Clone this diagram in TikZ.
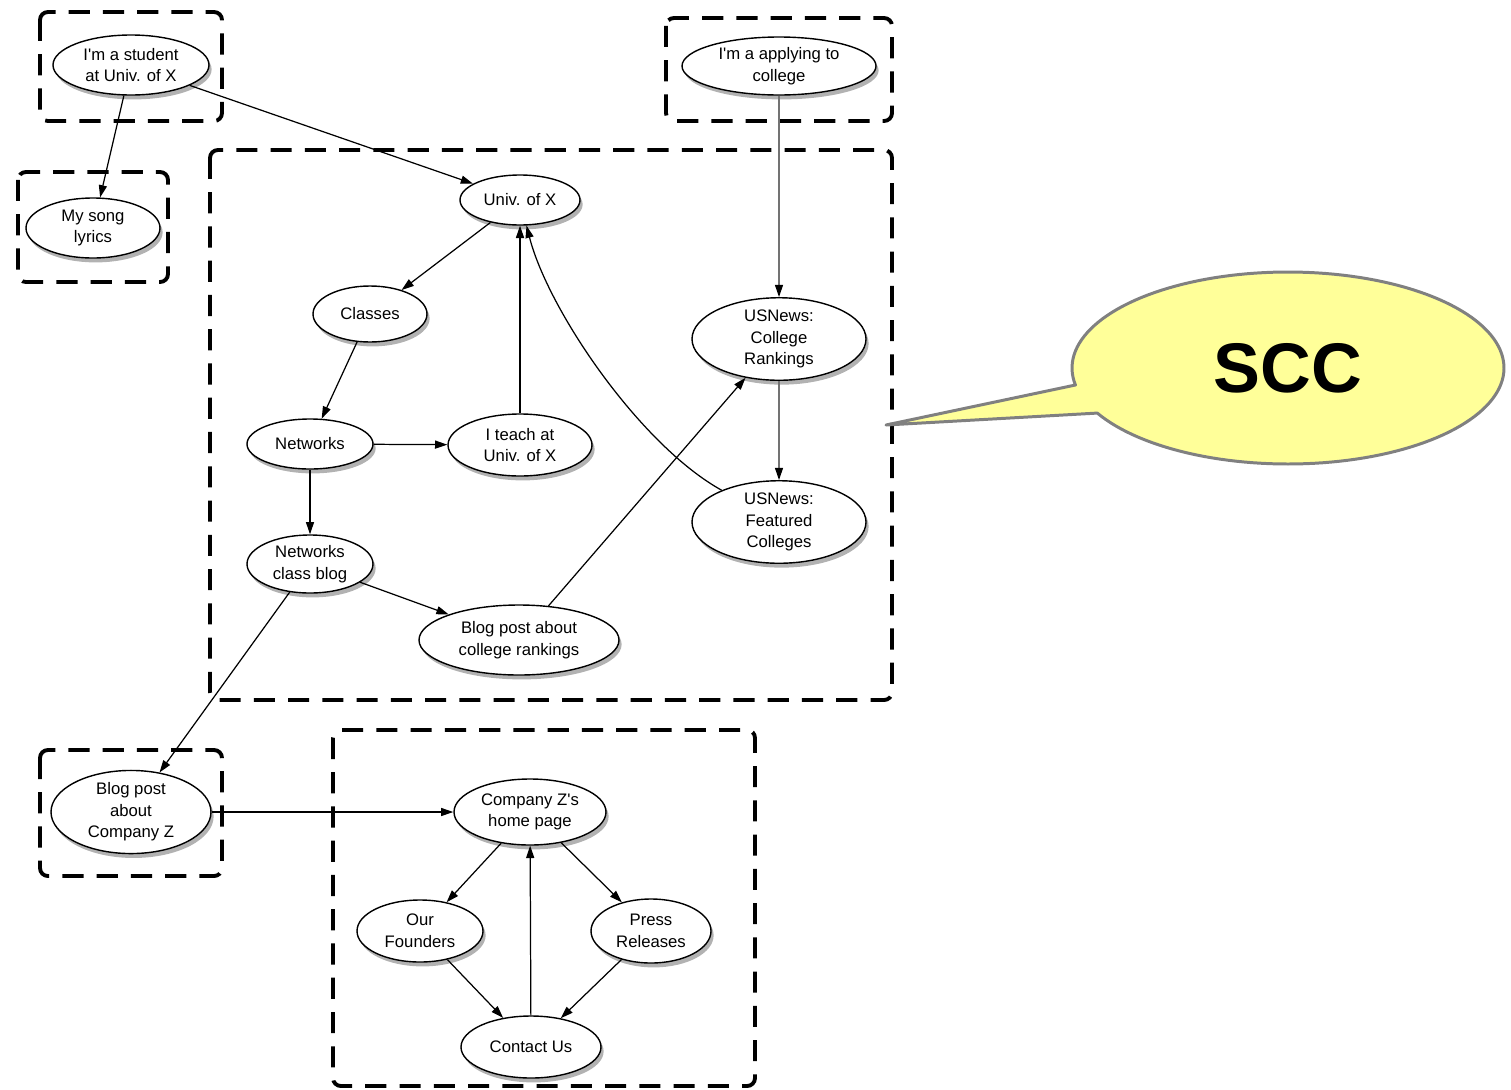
\documentclass[tikz,border=0pt]{standalone}
\usepackage{fontspec}
\setmainfont{Liberation Sans}
\usetikzlibrary{shapes.geometric,arrows.meta,shadows}
\definecolor{sccfill}{RGB}{255,255,153}
\definecolor{sccline}{RGB}{128,128,128}
\newcommand\nodefnt{\fontsize{9.5}{12.3}\selectfont}
\begin{document}
\begin{tikzpicture}[x=0.02cm,y=-0.02cm,
 ell/.style={ellipse,draw=black,line width=0.8pt,fill=white,inner sep=0pt,align=center,font=\nodefnt,
   drop shadow={shadow xshift=1.5pt,shadow yshift=-2.5pt,opacity=0.3,fill=black}},
 sz/.style 2 args={minimum width=#1*0.02cm,minimum height=#2*0.02cm},
 grp/.style={draw=black,line width=2.2pt,dash pattern=on 12pt off 7.5pt,rounded corners=4.5pt},
 lnk/.style={line width=0.7pt,-{Triangle[length=7pt,width=4.6pt,color=black]}},
 glnk/.style={lnk,draw=black!55},
]
\useasboundingbox (0,0) rectangle (1511,1089);

% groups
\draw[grp] (40,12) rectangle (222,121);
\draw[grp] (18,172) rectangle (168,282);
\draw[grp] (666,18) rectangle (892,121);
\draw[grp] (210,150) rectangle (892,700);
\draw[grp] (40,750) rectangle (222,876);
\draw[grp] (333,730) rectangle (755,1086);

% nodes
\node[ell,sz={156}{60}] (stu) at (131,65) {I\textquotesingle m a student\\at Univ. of X};
\node[ell,sz={134}{60}] (song) at (93,228) {My song\\lyrics};
\node[ell,sz={194}{58}] (app) at (779,66) {I\textquotesingle m a applying to\\college};
\node[ell,sz={120}{50}] (univ) at (520,200) {Univ. of X};
\node[ell,sz={114}{56}] (cls) at (370,314) {Classes};
\node[ell,sz={126}{50}] (net) at (310,444) {Networks};
\node[ell,sz={144}{62}] (teach) at (520,445) {I teach at\\Univ. of X};
\node[ell,sz={174}{74}] (rank) at (779,339) {USNews:\\College\\Rankings};
\node[ell,sz={174}{74}] (feat) at (779,522) {USNews:\\Featured\\Colleges};
\node[ell,sz={126}{58}] (nb) at (310,564) {Networks\\class blog};
\node[ell,sz={200}{70}] (bc) at (519,640) {Blog post about\\college rankings};
\node[ell,sz={160}{80}] (bz) at (131,812) {Blog post\\about\\Company Z};
\node[ell,sz={152}{66}] (cz) at (530,812) {Company Z\textquotesingle s\\home page};
\node[ell,sz={126}{62}] (fo) at (420,931) {Our\\Founders};
\node[ell,sz={120}{64}] (pr) at (651,931) {Press\\Releases};
\node[ell,sz={140}{62}] (cu) at (531,1047) {Contact Us};

% links
\draw[lnk] (stu) -- (song);
\draw[lnk] (stu) -- (univ);
\draw[glnk] (app) -- (rank);
\draw[lnk] (univ) -- (cls);
\draw[lnk] (cls) -- (net);
\draw[lnk] (net) -- (teach);
\draw[lnk] (teach) -- (univ);
\draw[lnk] (feat) .. controls (640,445) and (548,310) .. (univ);
\draw[glnk] (rank) -- (feat);
\draw[lnk] (net) -- (nb);
\draw[lnk] (nb) -- (bc);
\draw[lnk] (bc) -- (rank);
\draw[lnk] (nb) -- (bz);
\draw[lnk] (bz) -- (cz);
\draw[lnk] (cz) -- (fo);
\draw[lnk] (cz) -- (pr);
\draw[lnk] (fo) -- (cu);
\draw[lnk] (pr) -- (cu);
\draw[lnk] (cu) -- (cz);

% callout
\draw[fill=sccfill,draw=sccline,line width=1.7pt,line join=round]
  (886,425) -- plot[domain=169.8:512,samples=150] ({1288+216*cos(\x)},{368+96*sin(\x)}) -- cycle;
\node[font=\fontsize{40}{40}\selectfont\bfseries] (scc) at (1288,368) {SCC};
\end{tikzpicture}
\end{document}
